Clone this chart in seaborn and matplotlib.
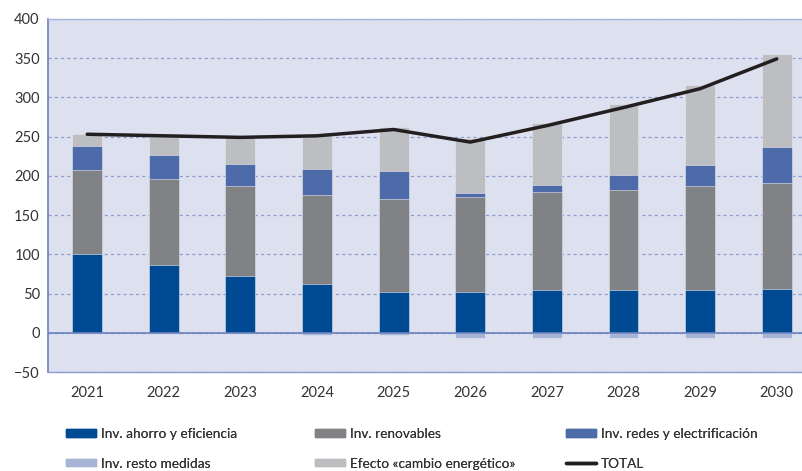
import pandas as pd
import matplotlib.pyplot as plt
import numpy as np
import seaborn as sns

# datos
anios = ['2021', '2022', '2023', '2024', '2025', '2026', '2027', '2028', '2029', '2030']
ahorro = [100, 86, 72, 62, 52, 52, 54, 54, 54, 56]
renovables = [107, 110, 115, 114, 119, 121, 125, 128, 133, 135]
redes = [31, 30, 28, 33, 35, 5, 9, 19, 27, 46]
efecto = [15, 25, 35, 43, 56, 70, 79, 90, 102, 118]
resto = [0, 0, 0, -3, -3, -6, -6, -6, -6, -6]
total = [253, 251, 249, 251, 259, 243, 264, 287, 311, 349]

etiquetas = ['Inv. ahorro y eficiencia', 'Inv. renovables', 'Inv. redes y electrificación',
             'Inv. resto medidas', 'Efecto «cambio energético»', 'TOTAL']
colores = ['#004A93', '#808285', '#4D6BA8', '#A6B4D6', '#BDBEC1', '#231F20']

sns.set_style('white')
plt.rcParams['font.family'] = ['Lato', 'DejaVu Sans']

df = pd.DataFrame({'anio': anios, 'ahorro': ahorro, 'renovables': renovables,
                   'redes': redes, 'efecto': efecto, 'resto': resto, 'total': total})

# acumulados para apilar (se dibuja de arriba hacia abajo)
df['c1'] = df['ahorro']
df['c2'] = df['c1'] + df['renovables']
df['c3'] = df['c2'] + df['redes']
df['c4'] = df['c3'] + df['efecto']

fig = plt.figure(figsize=(8.02, 4.71), dpi=100)
ax = fig.add_axes([0.06, 0.21, 0.94, 0.75])
ax.set_facecolor('#DDE0EE')

ancho = 0.39
for col, c in [('c4', colores[4]), ('c3', colores[2]), ('c2', colores[1]),
               ('c1', colores[0]), ('resto', colores[3])]:
    sns.barplot(data=df, x='anio', y=col, color=c, width=ancho, ax=ax,
                saturation=1, edgecolor='#E8E9F0', linewidth=0.4, zorder=3)

sns.lineplot(x=np.arange(len(anios)), y=df['total'], color=colores[5], lw=2.5,
             ax=ax, zorder=4)

ax.set_ylim(-50, 400)
ax.set_xlim(-0.51, 9.33)
ax.set_yticks(np.arange(-50, 401, 50))
ax.yaxis.grid(True, linestyle=(0, (2.5, 2.5)), color='#8E9BD0', lw=0.9, zorder=1)
ax.set_axisbelow(True)
ax.axhline(0, color='#6B82BE', lw=1.2, zorder=5)
ax.set_xlabel('')
ax.set_ylabel('')
ax.tick_params(axis='both', length=0, labelsize=10.5, colors='#333333')
ax.tick_params(axis='x', pad=10)
ax.tick_params(axis='y', pad=6)
ax.spines['left'].set_color('#6B82BE')
ax.spines['left'].set_linewidth(1.2)
ax.spines['bottom'].set_color('#8E9BD0')
ax.spines['bottom'].set_linewidth(1)
ax.spines['top'].set_color('#A9B4DC')
ax.spines['top'].set_linewidth(1)
ax.spines['right'].set_visible(False)

# leyenda en tres columnas independientes
from matplotlib.patches import Patch
from matplotlib.lines import Line2D
h = [Patch(color=colores[i]) for i in range(5)] + [Line2D([], [], color=colores[5], lw=2.5)]
grupos = [(0, 3, 66), (1, 4, 315), (2, 5, 566)]
for a, b, xp in grupos:
    leg = fig.legend([h[a], h[b]], [etiquetas[a], etiquetas[b]], loc='upper left',
                     bbox_to_anchor=(xp / 802 - 0.008, 1 - 421 / 471), frameon=False,
                     fontsize=9.8, handlelength=2.2, handleheight=0.45,
                     handletextpad=0.35, labelspacing=1.3, borderpad=0,
                     labelcolor='#333333')
    fig.add_artist(leg)

fig.savefig('out.png', dpi=100)
